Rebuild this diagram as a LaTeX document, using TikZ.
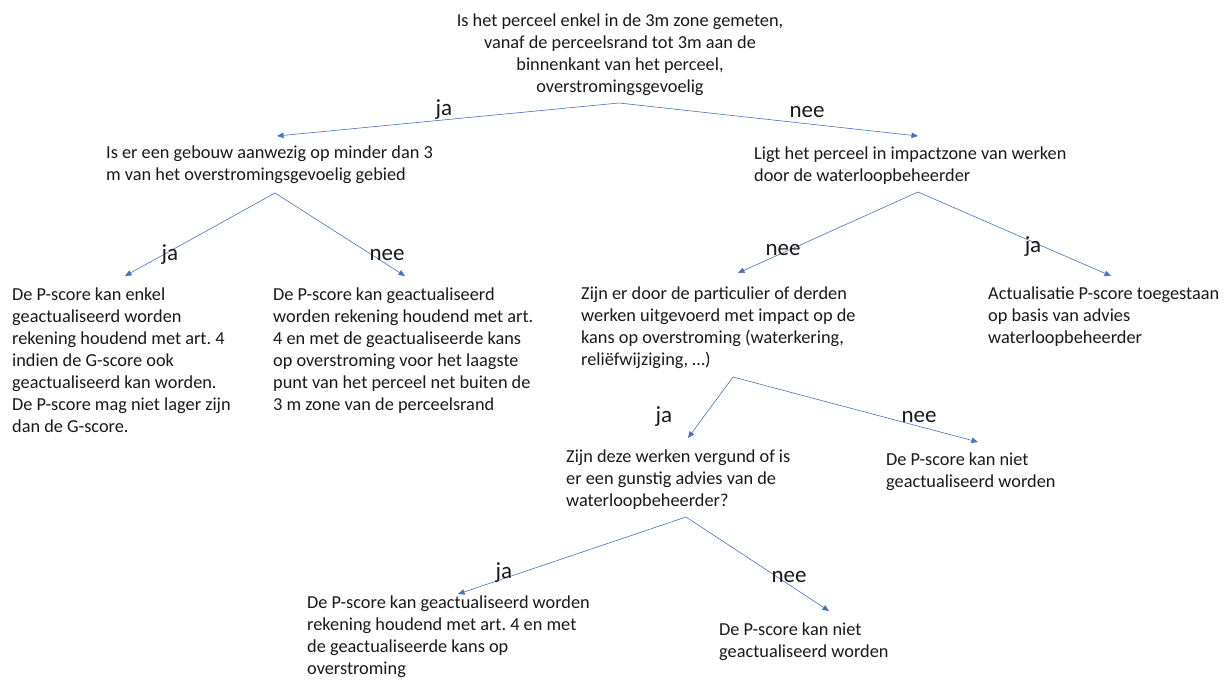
\documentclass[tikz,border=0pt]{standalone}
\usepackage{fontspec}
\setmainfont{Carlito}
\usetikzlibrary{arrows.meta}
\definecolor{arr}{RGB}{68,114,196}
\definecolor{txt}{RGB}{25,25,25}
\frenchspacing
\begin{document}
\begin{tikzpicture}[x=1pt,y=-1pt,
  txtbox/.style={anchor=north west, inner sep=0pt, align=left, text=txt, font=\fontsize{18.3}{22}\selectfont},
  topbox/.style={anchor=north, inner sep=0pt, align=center, text=txt, font=\fontsize{18.3}{22}\selectfont},
  lbl/.style={anchor=base, inner sep=0pt, text=txt, font=\fontsize{23}{27}\selectfont},
  conn/.style={draw=arr, line width=0.6pt, -{Triangle[length=6.5pt,width=5.5pt]}}]
\useasboundingbox (0,0) rectangle (1232,688);

% nodes
\node[topbox] (q1) at (620,11.5) {\rule{0pt}{15pt}Is het perceel enkel in de 3m zone gemeten,\\vanaf de perceelsrand tot 3m aan de\\binnenkant van het perceel,\\overstromingsgevoelig};
\node[txtbox] (q2) at (106,143.5) {\rule{0pt}{15pt}Is er een gebouw aanwezig op minder dan 3\\m van het overstromingsgevoelig gebied};
\node[txtbox] (q3) at (754,144.5) {\rule{0pt}{15pt}Ligt het perceel in impactzone van werken\\door de waterloopbeheerder};
\node[txtbox] (l1) at (12,285.5) {\rule{0pt}{15pt}De P-score kan enkel\\geactualiseerd worden\\rekening houdend met art. 4\\indien de G-score ook\\geactualiseerd kan worden.\\De P-score mag niet lager zijn\\dan de G-score.};
\node[txtbox] (l2) at (273,285.5) {\rule{0pt}{15pt}De P-score kan geactualiseerd\\worden rekening houdend met art.\\4 en met de geactualiseerde kans\\op overstroming voor het laagste\\punt van het perceel net buiten de\\3 m zone van de perceelsrand};
\node[txtbox] (q4) at (581,284.5) {\rule{0pt}{15pt}Zijn er door de particulier of derden\\werken uitgevoerd met impact op de\\kans op overstroming (waterkering,\\reliëfwijziging, …)};
\node[txtbox] (act) at (988,284.5) {\rule{0pt}{15pt}Actualisatie P-score toegestaan\\op basis van advies\\waterloopbeheerder};
\node[txtbox] (q5) at (566,447.5) {\rule{0pt}{15pt}Zijn deze werken vergund of is\\er een gunstig advies van de\\waterloopbeheerder?};
\node[txtbox] (n1) at (886,450.5) {\rule{0pt}{15pt}De P-score kan niet\\geactualiseerd worden};
\node[txtbox] (l3) at (307,593.5) {\rule{0pt}{15pt}De P-score kan geactualiseerd worden\\rekening houdend met art. 4 en met\\de geactualiseerde kans op\\overstroming};
\node[txtbox] (n2) at (719,620.5) {\rule{0pt}{15pt}De P-score kan niet\\geactualiseerd worden};

% connector end points
\coordinate (q1b) at (619,103);
\coordinate (q2t) at (277,136);
\coordinate (q3t) at (918,136);
\coordinate (q2b) at (275,193);
\coordinate (l1t) at (125,276);
\coordinate (l2t) at (405,276);
\coordinate (q3b) at (918,192);
\coordinate (q4t) at (738,273);
\coordinate (actt) at (1111,276);
\coordinate (q4b) at (733,377);
\coordinate (q5t) at (688,438);
\coordinate (n1t) at (978,442);
\coordinate (q5b) at (686,517);
\coordinate (l3t) at (458,594);
\coordinate (n2t) at (829,611);

% connectors
\draw[conn] (q1b) -- (q2t);
\draw[conn] (q1b) -- (q3t);
\draw[conn] (q2b) -- (l1t);
\draw[conn] (q2b) -- (l2t);
\draw[conn] (q3b) -- (q4t);
\draw[conn] (q3b) -- (actt);
\draw[conn] (q4b) -- (q5t);
\draw[conn] (q4b) -- (n1t);
\draw[conn] (q5b) -- (l3t);
\draw[conn] (q5b) -- (n2t);

% labels
\node[lbl] (la1) at (444,115.5) {ja};
\node[lbl] (la2) at (807,117.5) {nee};
\node[lbl] (la3) at (170,260.5) {ja};
\node[lbl] (la4) at (387,260.5) {nee};
\node[lbl] (la5) at (783,255.5) {nee};
\node[lbl] (la6) at (1033,252.5) {ja};
\node[lbl] (la7) at (664,422.5) {ja};
\node[lbl] (la8) at (919,422.5) {nee};
\node[lbl] (la9) at (504,578.5) {ja};
\node[lbl] (la10) at (789,582.5) {nee};
\end{tikzpicture}
\end{document}
